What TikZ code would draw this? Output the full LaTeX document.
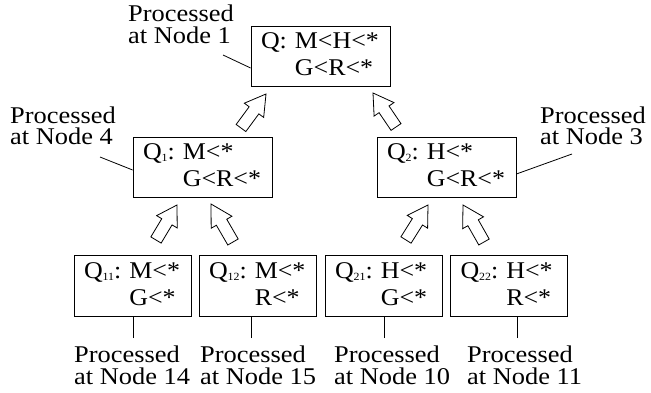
\documentclass[tikz,border=0pt]{standalone}
\usepackage{fontspec}
\usetikzlibrary{calc}
\newfontfamily\labfont{Liberation Serif}[FakeStretch=1.1]
\newfontfamily\boxfont{Liberation Serif}[FakeStretch=1.08]
\frenchspacing
\newcommand{\qsub}[1]{\raisebox{-2.5pt}{\fontsize{11}{11}\selectfont #1}}
\newcommand{\blockarrow}[2]{%
  \draw[blockarr] ($(#1)!6pt!-90:(#2)$)
    -- ($(#1)!0.52!(#2)!6pt!-90:(#2)$)
    -- ($(#1)!0.52!(#2)!12pt!-90:(#2)$)
    -- (#2)
    -- ($(#1)!0.52!(#2)!12pt!90:(#2)$)
    -- ($(#1)!0.52!(#2)!6pt!90:(#2)$)
    -- ($(#1)!6pt!90:(#2)$) -- cycle;}
\begin{document}
\begin{tikzpicture}[x=1pt,y=-1pt,
  qbox/.style={draw, line width=0.8pt, inner xsep=10pt, inner ysep=0pt, align=left,
    minimum height=60pt, font=\boxfont\fontsize{24}{27}\selectfont},
  bigbox/.style={qbox, text width=119pt},
  smallbox/.style={qbox, text width=97pt, minimum height=61pt},
  lab/.style={align=left, inner sep=0pt, anchor=base west,
    font=\labfont\fontsize{24}{21.5}\selectfont},
  conn/.style={line width=0.8pt},
  blockarr/.style={line width=0.8pt, fill=white, line join=miter}]
\useasboundingbox (0,0) rectangle (651,393);
% boxes
\node[bigbox] (top) at (320.5,56) {Q: M<H<*\\\phantom{Q: }G<R<*};
\node[bigbox] (q1) at (202.5,167) {Q\qsub{1}: M<*\\\phantom{Q\qsub{1}: }G<R<*};
\node[bigbox] (q2) at (446.5,167) {Q\qsub{2}: H<*\\\phantom{Q\qsub{2}: }G<R<*};
\node[smallbox] (q11) at (132.5,285.5) {Q\qsub{11}: M<*\\\phantom{Q\qsub{11}: }G<*};
\node[smallbox] (q12) at (257.5,285.5) {Q\qsub{12}: M<*\\\phantom{Q\qsub{12}: }R<*};
\node[smallbox] (q21) at (383.5,285.5) {Q\qsub{21}: H<*\\\phantom{Q\qsub{21}: }G<*};
\node[smallbox] (q22) at (509,285.5) {Q\qsub{22}: H<*\\\phantom{Q\qsub{22}: }R<*};
% labels (anchor = baseline of last line)
\node[lab] (lab1) at (128,43.5) {Processed\\at Node 1};
\node[lab] (lab4) at (10,145) {Processed\\at Node 4};
\node[lab] (lab3) at (540,145) {Processed\\at Node 3};
\node[lab] (lab14) at (74,384) {Processed\\at Node 14};
\node[lab] (lab15) at (200,384) {Processed\\at Node 15};
\node[lab] (lab10) at (334,384) {Processed\\at Node 10};
\node[lab] (lab11) at (467,384) {Processed\\at Node 11};
% label connectors
\coordinate (c1) at (223,55);
\coordinate (c4) at (100,157);
\coordinate (c3) at (572,154);
\coordinate (c14) at (133,338);
\coordinate (c15) at (251,338);
\coordinate (c10) at (384,338);
\coordinate (c11) at (517,338);
\draw[conn] (c1) -- ($(top.west)+(0,12)$);
\draw[conn] (c4) -- ($(q1.west)+(0,3)$);
\draw[conn] (c3) -- ($(q2.east)+(0,7)$);
\draw[conn] (c14) -- (c14 |- q11.south);
\draw[conn] (c15) -- (c15 |- q12.south);
\draw[conn] (c10) -- (c10 |- q21.south);
\draw[conn] (c11) -- (c11 |- q22.south);
% block arrows
\coordinate (t1) at (241,128); \coordinate (h1) at (266,94);
\coordinate (t2) at (396,127); \coordinate (h2) at (373,93);
\coordinate (t3) at (156,240); \coordinate (h3) at (177,205);
\coordinate (t4) at (233,242); \coordinate (h4) at (211,204);
\coordinate (t5) at (406,240); \coordinate (h5) at (428,205);
\coordinate (t6) at (484,242); \coordinate (h6) at (463,205);
\blockarrow{t1}{h1}
\blockarrow{t2}{h2}
\blockarrow{t3}{h3}
\blockarrow{t4}{h4}
\blockarrow{t5}{h5}
\blockarrow{t6}{h6}
\end{tikzpicture}
\end{document}
